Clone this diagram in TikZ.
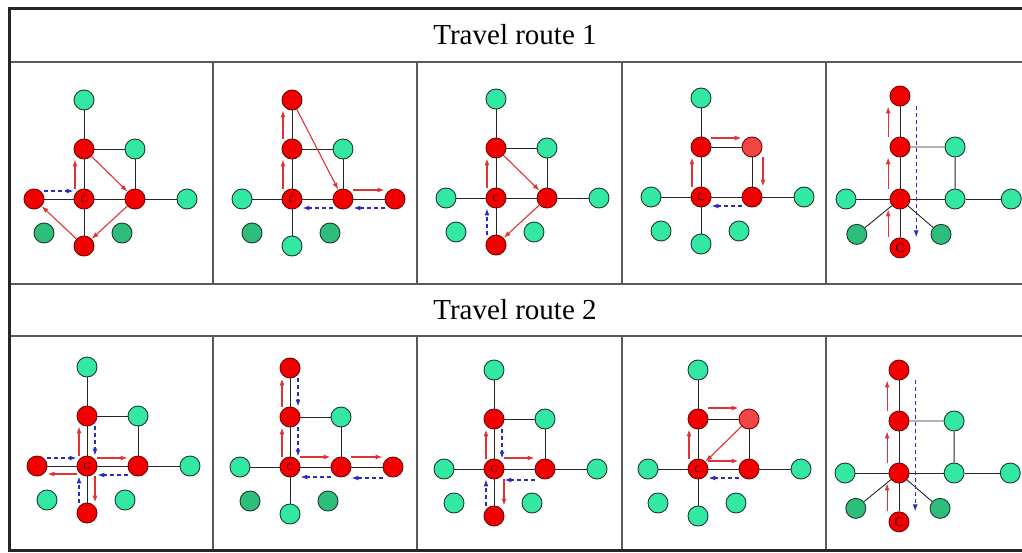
\documentclass[tikz,border=0pt]{standalone}
\usepackage{fontspec}
\setmainfont{Liberation Serif}
\usepackage{tikz}
\usetikzlibrary{arrows.meta}
\definecolor{NodeRed}{HTML}{F20000}
\definecolor{NodeRedSoft}{HTML}{F04646}
\definecolor{NodeRedLine}{HTML}{7A0000}
\definecolor{NodeGreen}{HTML}{33E8A2}
\definecolor{NodeGreenDark}{HTML}{2CBE7A}
\definecolor{NodeGreenLine}{HTML}{1E3A2C}
\definecolor{RouteRed}{HTML}{E03434}
\definecolor{RouteBlue}{HTML}{2A2AC4}
\definecolor{FrameGray}{HTML}{5A5A5A}
\tikzset{
  vtx/.style={circle, minimum size=20pt, inner sep=0pt, line width=0.9pt},
  rednode/.style={vtx, draw=NodeRedLine, fill=NodeRed},
  softnode/.style={vtx, draw=NodeRedLine, fill=NodeRedSoft},
  greennode/.style={vtx, draw=NodeGreenLine, fill=NodeGreen},
  darknode/.style={vtx, draw=NodeGreenLine, fill=NodeGreenDark},
  clabel/.style={font=\fontsize{10}{10}\selectfont, text=black!60!NodeRedLine, inner sep=0pt},
  bigclabel/.style={clabel, font=\fontsize{13}{13}\selectfont},
  link/.style={draw=black!85, line width=0.9pt},
  goarrow/.style={-{Latex[length=7pt,width=5pt]}, draw=RouteRed, line width=1.1pt},
  backarrow/.style={-{Latex[length=7pt,width=5pt]}, draw=RouteBlue, line width=1.1pt, dash pattern=on 4pt off 3pt},
  cellline/.style={draw=FrameGray, line width=1.5pt},
  frameline/.style={draw=black!85, line width=3pt},
  title/.style={font=\fontsize{29}{32}\selectfont, inner sep=0pt}
}
% lattice around the hub c
% #1 top, #2 up, #3 upper right, #4 left, #5 right, #6 far right, #7 lower left, #8 lower right, #9 bottom
\newcommand{\latticegraph}[9]{%
  \node[#1] (tp) at (0,-99) {};
  \node[#2] (up) at (0,-50) {};
  \node[#3] (ur) at (51,-50) {};
  \node[#4] (lf) at (-50,0) {};
  \node[rednode] (c) at (0,0) {};
  \node[#5] (rt) at (51,0) {};
  \node[#6] (fr) at (103,0) {};
  \node[#7] (ll) at (-40,34) {};
  \node[#8] (lr) at (38,34) {};
  \node[#9] (bt) at (0,47) {};
  \draw[link] (tp) -- (up) -- (c) -- (bt);
  \draw[link] (lf) -- (c) -- (rt) -- (fr);
  \draw[link] (up) -- (ur) -- (rt);
}

\begin{document}
\begin{tikzpicture}[x=1pt,y=-1pt]
  \useasboundingbox (0,0) rectangle (1022,552);
  \fill[white] (0,0) rectangle (1022,552);

  % table
  \foreach \y in {62,284,336} {
    \draw[cellline] (9,\y) -- (1022,\y);
  }
  \foreach \x in {213,417,622,826} {
    \draw[cellline] (\x,62) -- (\x,284);
    \draw[cellline] (\x,336) -- (\x,550);
  }
  \draw[frameline] (1022,8) -- (9,8) -- (9,550) -- (1022,550);
  \node[title] (route1) at (515,35) {Travel route 1};
  \node[title] (route2) at (515,310) {Travel route 2};

  % route 1
  \begin{scope}[shift={(84,199)}, name prefix=p1-]
    \latticegraph{greennode}{rednode}{greennode}{rednode}{rednode}{greennode}{darknode}{darknode}{rednode}
    \node[clabel] (cl) at (c) {C};
    \draw[goarrow] ([xshift=-9pt]c.north) -- ([xshift=-9pt]up.south);
    \draw[goarrow] (up) -- (rt);
    \draw[goarrow] (rt) -- (bt);
    \draw[goarrow] (bt) -- (lf);
    \draw[backarrow] ([yshift=8pt]lf.east) -- ([yshift=8pt]c.west);
  \end{scope}

  \begin{scope}[shift={(292,199)}, name prefix=p2-]
    \latticegraph{rednode}{rednode}{greennode}{greennode}{rednode}{rednode}{darknode}{darknode}{greennode}
    \node[clabel] (cl) at (c) {C};
    \draw[goarrow] ([xshift=-9pt]c.north) -- ([xshift=-9pt]up.south);
    \draw[goarrow] ([xshift=-9pt]up.north) -- ([xshift=-9pt]tp.south);
    \draw[goarrow] (tp) -- (rt);
    \draw[goarrow] ([yshift=9pt]rt.east) -- ([yshift=9pt]fr.west);
    \draw[backarrow] ([yshift=-9pt]fr.west) -- ([yshift=-9pt]rt.east);
    \draw[backarrow] ([yshift=-9pt]rt.west) -- ([yshift=-9pt]c.east);
  \end{scope}

  \begin{scope}[shift={(496,198)}, name prefix=p3-]
    \latticegraph{greennode}{rednode}{greennode}{greennode}{rednode}{greennode}{greennode}{greennode}{rednode}
    \node[clabel] (cl) at (c) {C};
    \draw[goarrow] ([xshift=-9pt]c.north) -- ([xshift=-9pt]up.south);
    \draw[goarrow] (up) -- (rt);
    \draw[goarrow] (rt) -- (bt);
    \draw[backarrow] ([xshift=-9pt]bt.north) -- ([xshift=-9pt]c.south);
  \end{scope}

  \begin{scope}[shift={(701,197)}, name prefix=p4-]
    \latticegraph{greennode}{rednode}{softnode}{greennode}{rednode}{greennode}{greennode}{greennode}{greennode}
    \node[clabel] (cl) at (c) {C};
    \draw[goarrow] ([xshift=-9pt]c.north) -- ([xshift=-9pt]up.south);
    \draw[goarrow] ([yshift=9pt]up.east) -- ([yshift=9pt]ur.west);
    \draw[goarrow] ([xshift=11pt]ur.south) -- ([xshift=11pt]rt.north);
    \draw[backarrow] ([yshift=-9pt]rt.west) -- ([yshift=-9pt]c.east);
  \end{scope}

  \begin{scope}[shift={(900,199)}, xscale=1.08, yscale=1.04, name prefix=p5-]
    \latticegraph{rednode}{rednode}{greennode}{greennode}{greennode}{greennode}{darknode}{darknode}{rednode}
    \draw[link] (c) -- (ll);
    \draw[link] (c) -- (lr);
    \node[bigclabel] (cl) at (bt) {C};
    \draw[goarrow] ([xshift=-11pt]bt.north) -- ([xshift=-11pt]c.south);
    \draw[goarrow] ([xshift=-11pt]c.north) -- ([xshift=-11pt]up.south);
    \draw[goarrow] ([xshift=-11pt]up.north) -- ([xshift=-11pt]tp.south);
    \draw[backarrow] ([xshift=15pt]tp.south) -- ([xshift=15pt]bt.north);
  \end{scope}

  % route 2
  \begin{scope}[shift={(87,466)}, name prefix=p6-]
    \latticegraph{greennode}{rednode}{greennode}{rednode}{rednode}{greennode}{greennode}{greennode}{rednode}
    \node[clabel] (cl) at (c) {C};
    \draw[goarrow] ([xshift=-8pt]c.north) -- ([xshift=-8pt]up.south);
    \draw[backarrow] ([xshift=8pt]up.south) -- ([xshift=8pt]c.north);
    \draw[backarrow] ([yshift=8pt]lf.east) -- ([yshift=8pt]c.west);
    \draw[goarrow] ([yshift=8pt]c.east) -- ([yshift=8pt]rt.west);
    \draw[goarrow] ([yshift=-8pt]c.west) -- ([yshift=-8pt]lf.east);
    \draw[backarrow] ([yshift=-9pt]rt.west) -- ([yshift=-9pt]c.east);
    \draw[backarrow] ([xshift=-8pt]bt.north) -- ([xshift=-8pt]c.south);
    \draw[goarrow] ([xshift=8pt]c.south) -- ([xshift=8pt]bt.north);
  \end{scope}

  \begin{scope}[shift={(290,467)}, name prefix=p7-]
    \latticegraph{rednode}{rednode}{greennode}{greennode}{rednode}{rednode}{darknode}{darknode}{greennode}
    \node[clabel] (cl) at (c) {C};
    \draw[goarrow] ([xshift=-8pt]c.north) -- ([xshift=-8pt]up.south);
    \draw[goarrow] ([xshift=-8pt]up.north) -- ([xshift=-8pt]tp.south);
    \draw[backarrow] ([xshift=8pt]tp.south) -- ([xshift=8pt]up.north);
    \draw[backarrow] ([xshift=8pt]up.south) -- ([xshift=8pt]c.north);
    \draw[goarrow] ([yshift=10pt]c.east) -- ([yshift=10pt]rt.west);
    \draw[goarrow] ([yshift=10pt]rt.east) -- ([yshift=10pt]fr.west);
    \draw[backarrow] ([yshift=-11pt]fr.west) -- ([yshift=-11pt]rt.east);
    \draw[backarrow] ([yshift=-10pt]rt.west) -- ([yshift=-10pt]c.east);
  \end{scope}

  \begin{scope}[shift={(494,469)}, name prefix=p8-]
    \latticegraph{greennode}{rednode}{greennode}{greennode}{rednode}{greennode}{greennode}{greennode}{rednode}
    \node[clabel] (cl) at (c) {C};
    \draw[goarrow] ([xshift=-8pt]c.north) -- ([xshift=-8pt]up.south);
    \draw[backarrow] ([xshift=8pt]up.south) -- ([xshift=8pt]c.north);
    \draw[goarrow] ([yshift=11pt]c.east) -- ([yshift=11pt]rt.west);
    \draw[backarrow] ([yshift=-11pt]rt.west) -- ([yshift=-11pt]c.east);
    \draw[goarrow] ([xshift=10pt]c.south) -- ([xshift=10pt]bt.north);
    \draw[backarrow] ([xshift=-8pt]bt.north) -- ([xshift=-8pt]c.south);
  \end{scope}

  \begin{scope}[shift={(698,469)}, name prefix=p9-]
    \latticegraph{greennode}{rednode}{softnode}{greennode}{rednode}{greennode}{greennode}{greennode}{greennode}
    \node[clabel] (cl) at (c) {C};
    \draw[goarrow] ([xshift=-9pt]c.north) -- ([xshift=-9pt]up.south);
    \draw[goarrow] ([yshift=11pt]up.east) -- ([yshift=11pt]ur.west);
    \draw[goarrow] (ur) -- (c);
    \draw[goarrow] ([yshift=8pt]c.east) -- ([yshift=8pt]rt.west);
    \draw[backarrow] ([yshift=-9pt]rt.west) -- ([yshift=-9pt]c.east);
  \end{scope}

  \begin{scope}[shift={(899,473)}, xscale=1.08, yscale=1.04, name prefix=p10-]
    \latticegraph{rednode}{rednode}{greennode}{greennode}{greennode}{greennode}{darknode}{darknode}{rednode}
    \draw[link] (c) -- (ll);
    \draw[link] (c) -- (lr);
    \node[bigclabel] (cl) at (bt) {C};
    \draw[goarrow] ([xshift=-11pt]bt.north) -- ([xshift=-11pt]c.south);
    \draw[goarrow] ([xshift=-11pt]c.north) -- ([xshift=-11pt]up.south);
    \draw[goarrow] ([xshift=-11pt]up.north) -- ([xshift=-11pt]tp.south);
    \draw[backarrow] ([xshift=15pt]tp.south) -- ([xshift=15pt]bt.north);
  \end{scope}
\end{tikzpicture}
\end{document}
